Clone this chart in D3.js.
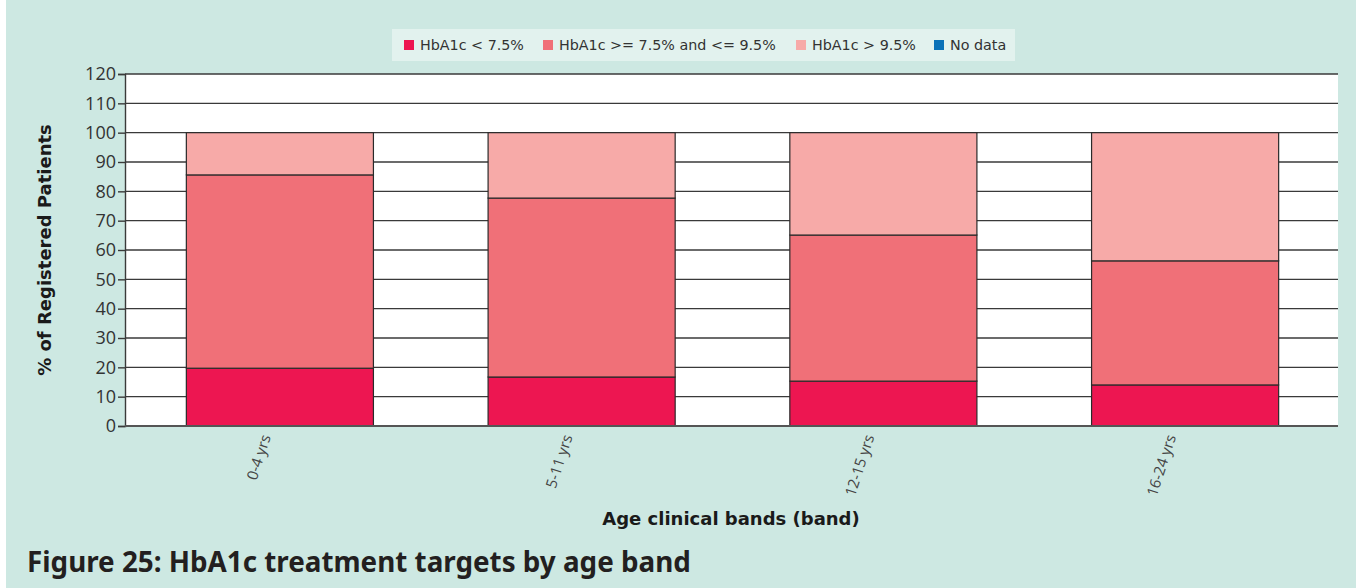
<!DOCTYPE html>
<html>
<head>
<meta charset="utf-8">
<script src="https://cdn.jsdelivr.net/npm/d3@7"></script>
<style>
  html, body { margin: 0; padding: 0; background: #ffffff; }
  svg { display: block; font-family: "DejaVu Sans", "Open Sans", sans-serif; }
</style>
</head>
<body>
<svg id="chart" width="1356" height="588"></svg>
<script>
// Age bands on the x axis
const categories = ["0-4 yrs", "5-11 yrs", "12-15 yrs", "16-24 yrs"];

// Percentage of registered patients in each HbA1c group
const seriesNames = ["HbA1c < 7.5%", "HbA1c >= 7.5% and <= 9.5%", "HbA1c > 9.5%", "No data"];
const below75 = [19.7, 16.7, 15.3, 14.0];
const between = [65.9, 61.0, 49.8, 42.3];
const above95 = [14.4, 22.3, 34.9, 43.7];
const noData = [0, 0, 0, 0];

const yTicks = [0, 10, 20, 30, 40, 50, 60, 70, 80, 90, 100, 110, 120];
const colors = ["#ed1651", "#f07078", "#f7aaa8", "#0a72b8"];

const seriesValues = [below75, between, above95, noData];
const rows = categories.map((c, i) => {
  const r = { cat: c };
  seriesNames.forEach((s, k) => { r[s] = seriesValues[k][i]; });
  return r;
});

const svg = d3.select("#chart");
const W = 1356, H = 588;
const margin = { left: 125, right: 18, top: 74, bottom: 162 };

// Panel background
svg.append("rect").attr("x", 6).attr("y", 0).attr("width", W - 6).attr("height", H)
  .attr("fill", "#cde8e2");

const x = d3.scaleBand().domain(categories)
  .range([margin.left, W - margin.right])
  .paddingInner(0.38).paddingOuter(0.2);
const y = d3.scaleLinear().domain([0, 120]).range([H - margin.bottom, margin.top]);

// Plot area
svg.append("rect")
  .attr("x", margin.left).attr("y", y(120))
  .attr("width", W - margin.right - margin.left).attr("height", y(0) - y(120))
  .attr("fill", "#ffffff");

// Horizontal gridlines
svg.append("g").selectAll("line").data(yTicks).join("line")
  .attr("x1", margin.left).attr("x2", W - margin.right)
  .attr("y1", d => y(d)).attr("y2", d => y(d))
  .attr("stroke", "#3a3a3a").attr("stroke-width", 1.4);

// Stacked bars
const stack = d3.stack().keys(seriesNames);
const layers = stack(rows);
svg.append("g").selectAll("g").data(layers).join("g")
  .attr("fill", (d, i) => colors[i])
  .selectAll("rect").data(d => d).join("rect")
  .attr("x", d => x(d.data.cat) + 1)
  .attr("y", d => y(d[1]))
  .attr("width", x.bandwidth())
  .attr("height", d => y(d[0]) - y(d[1]))
  .attr("stroke", "#2a2a2a").attr("stroke-width", 1.2)
  .attr("display", d => (d[1] - d[0]) > 0 ? null : "none");

// Y axis
const yAxis = svg.append("g")
  .attr("transform", `translate(${margin.left},0)`)
  .call(d3.axisLeft(y).tickValues(yTicks).tickSize(7).tickPadding(2));
yAxis.select(".domain").attr("stroke", "#3a3a3a").attr("stroke-width", 1.4);
yAxis.selectAll(".tick line").attr("stroke", "#3a3a3a").attr("stroke-width", 1.4);
yAxis.selectAll("text").attr("fill", "#333").style("font-size", "18px")
  .style("font-family", "'Open Sans', sans-serif");

// X axis line
svg.append("line")
  .attr("x1", margin.left).attr("x2", W - margin.right)
  .attr("y1", y(0)).attr("y2", y(0))
  .attr("stroke", "#555").attr("stroke-width", 2);

// Category labels, rotated
svg.append("g").selectAll("text").data(categories).join("text")
  .attr("transform", d => `translate(${x(d) + x.bandwidth() / 2 - 13},${y(0) + 9}) rotate(-72)`)
  .attr("text-anchor", "end")
  .attr("dy", "0.35em")
  .attr("fill", "#444")
  .style("font-size", "15px")
  .style("font-family", "'Open Sans', sans-serif")
  .text(d => d);

// Axis titles
svg.append("text")
  .attr("transform", `translate(51,${(y(0) + y(120)) / 2}) rotate(-90)`)
  .attr("text-anchor", "middle")
  .attr("fill", "#1a1a1a")
  .style("font-size", "18px").style("font-weight", "bold")
  .text("% of Registered Patients");

svg.append("text")
  .attr("x", 731).attr("y", 525)
  .attr("text-anchor", "middle")
  .attr("fill", "#1a1a1a")
  .style("font-size", "18px").style("font-weight", "bold")
  .text("Age clinical bands (band)");

// Figure caption
svg.append("text")
  .attr("x", 27).attr("y", 572)
  .attr("fill", "#231f20")
  .style("font-size", "27.8px").style("font-weight", "bold")
  .style("font-family", "'Noto Sans', 'Open Sans', sans-serif")
  .text("Figure 25: HbA1c treatment targets by age band");

// Legend
const legend = svg.append("g");
legend.append("rect").attr("x", 392).attr("y", 29).attr("width", 623).attr("height", 32)
  .attr("fill", "#e2f2ee");
const legX = [404, 543, 796, 934];
const items = legend.selectAll("g").data(seriesNames).join("g")
  .attr("transform", (d, i) => `translate(${legX[i]},45)`);
items.append("rect").attr("x", 0).attr("y", -5).attr("width", 10).attr("height", 10)
  .attr("fill", (d, i) => colors[i]);
items.append("text").attr("x", 16).attr("dy", "0.35em")
  .attr("fill", "#333").style("font-size", "14.3px")
  .text(d => d);
</script>
</body>
</html>
